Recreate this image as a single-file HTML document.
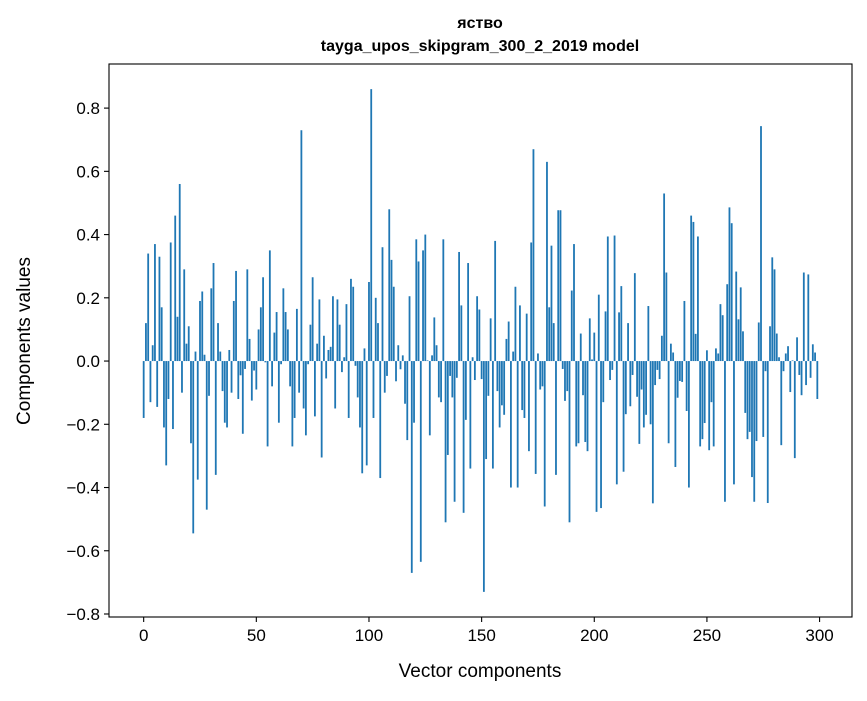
<!DOCTYPE html>
<html><head><meta charset="utf-8"><style>
body{margin:0;background:#fff;}
svg text{font-family:"Liberation Sans","DejaVu Sans",sans-serif;fill:#000;}
</style></head><body>
<svg id="chart" width="867" height="696" xmlns="http://www.w3.org/2000/svg">
<rect width="867" height="696" fill="#fff"/>
<text x="480" y="28" text-anchor="middle" font-size="16" font-weight="bold">яство</text>
<text x="480" y="51" text-anchor="middle" font-size="16" font-weight="bold">tayga_upos_skipgram_300_2_2019 model</text>
<g id="bars"></g>
<g id="axes"></g>
<text x="480" y="677" text-anchor="middle" font-size="19">Vector components</text>
<text transform="translate(30,341) rotate(-90)" text-anchor="middle" font-size="19">Components values</text>
</svg>
<script>
const values = [
-0.18,0.12,0.34,-0.13,0.05,0.37,-0.145,0.33,0.17,-0.21,
-0.33,-0.12,0.375,-0.215,0.46,0.14,0.56,-0.10,0.29,0.055,
0.11,-0.26,-0.545,0.03,-0.375,0.19,0.22,0.02,-0.47,-0.11,
0.23,0.31,-0.36,0.12,0.03,-0.095,-0.195,-0.21,0.035,-0.10,
0.19,0.285,-0.12,-0.045,-0.23,-0.025,0.29,0.07,-0.125,-0.03,
-0.09,0.10,0.17,0.265,-0.004,-0.27,0.35,-0.08,0.09,0.155,
-0.195,-0.01,0.23,0.155,0.10,-0.08,-0.27,-0.18,0.165,-0.10,
0.73,-0.15,-0.235,-0.01,0.115,0.265,-0.175,0.055,0.195,-0.305,
0.08,-0.055,0.035,0.045,0.205,-0.15,0.195,0.115,-0.035,0.012,
0.18,-0.18,0.26,0.235,-0.015,-0.115,-0.21,-0.355,0.04,-0.33,
0.25,0.86,-0.18,0.2,0.12,-0.37,0.36,-0.10,-0.047,0.48,
0.32,0.235,-0.064,0.05,-0.026,0.018,-0.135,-0.25,0.205,-0.67,
-0.195,0.385,0.315,-0.635,0.35,0.40,0.002,-0.235,0.018,0.138,
0.05,-0.115,-0.13,0.385,-0.51,-0.297,-0.047,-0.115,-0.445,-0.053,
0.345,0.176,-0.48,-0.186,0.31,-0.34,0.012,-0.06,0.205,0.163,
-0.057,-0.73,-0.31,-0.11,0.135,-0.34,0.38,-0.095,-0.21,-0.14,
-0.17,0.07,0.125,-0.40,0.03,0.235,-0.40,0.176,-0.155,-0.18,
0.15,-0.285,0.375,0.67,-0.357,0.024,-0.09,-0.08,-0.46,0.63,
0.17,0.365,0.12,-0.36,0.477,0.477,-0.025,-0.126,-0.095,-0.51,
0.223,0.37,-0.27,-0.26,0.087,-0.108,-0.256,-0.285,0.135,0.005,
0.09,-0.477,0.21,-0.465,-0.13,0.157,0.394,-0.06,-0.028,0.397,
-0.39,0.154,0.237,-0.35,-0.168,0.12,-0.143,-0.044,0.278,-0.113,
-0.262,-0.09,-0.21,-0.17,0.174,-0.2,-0.45,-0.076,-0.028,-0.057,
0.08,0.53,0.28,-0.26,0.055,0.027,-0.335,-0.116,-0.063,-0.066,
0.19,-0.158,-0.40,0.46,0.44,0.086,0.394,-0.27,-0.247,-0.196,
0.034,-0.282,-0.13,-0.27,0.04,0.024,0.18,0.145,-0.445,0.243,
0.486,0.436,-0.39,0.283,0.132,0.233,0.094,-0.164,-0.247,-0.224,
-0.367,-0.445,-0.253,0.122,0.743,-0.24,-0.032,-0.449,0.11,0.328,
0.29,0.087,0.012,-0.266,-0.032,0.024,0.047,-0.098,0.002,-0.307,
0.075,-0.044,-0.108,0.28,-0.076,0.274,-0.053,0.053,0.027,-0.12
];
const yTicks = [-0.8,-0.6,-0.4,-0.2,0.0,0.2,0.4,0.6,0.8];
const xTicks = [0,50,100,150,200,250,300];

const NS="http://www.w3.org/2000/svg";
const L=109,R=852,T=64,B=617;
const n=values.length;
const xmin=-0.4-0.05*(n-1+0.8), xmax=n-1+0.4+0.05*(n-1+0.8);
let vmin=Math.min(0,...values), vmax=Math.max(0,...values);
const pad=(vmax-vmin)*0.05;
const ymin=vmin-pad, ymax=vmax+pad;
function xs(v){return L+(v-xmin)/(xmax-xmin)*(R-L);}
function ys(v){return B-(v-ymin)/(ymax-ymin)*(B-T);}
const bars=document.getElementById('bars');
values.forEach((v,i)=>{
  const r=document.createElementNS(NS,'rect');
  const x0=xs(i-0.4), x1=xs(i+0.4);
  const y0=ys(Math.max(v,0)), y1=ys(Math.min(v,0));
  r.setAttribute('x',x0);r.setAttribute('width',x1-x0);
  r.setAttribute('y',y0);r.setAttribute('height',Math.max(y1-y0,0.01));
  r.setAttribute('fill','#1f77b4');
  
  
  bars.appendChild(r);
});
const axes=document.getElementById('axes');
function el(tag,attrs,text){const e=document.createElementNS(NS,tag);for(const k in attrs)e.setAttribute(k,attrs[k]);if(text!==undefined)e.textContent=text;axes.appendChild(e);return e;}
const frame=el('rect',{x:L,y:T,width:R-L,height:B-T,fill:'none',stroke:'#000','stroke-width':1.1});


yTicks.forEach(t=>{
  const y=ys(t);
  const ln=el('line',{x1:L-5,x2:L,y1:y,y2:y,stroke:'#000','stroke-width':1.1});
  
  
  const lab=(t<0?'\u2212':'')+Math.abs(t).toFixed(1);
  const tx=el('text',{x:L-9,y:y+6,'text-anchor':'end','font-size':17},lab);
  
  
});
xTicks.forEach(t=>{
  const x=xs(t);
  const ln=el('line',{x1:x,x2:x,y1:B,y2:B+5,stroke:'#000','stroke-width':1.1});
  
  
  const tx=el('text',{x:x,y:B+24,'text-anchor':'middle','font-size':17},String(t));
  
  
});
</script>
</body></html>
